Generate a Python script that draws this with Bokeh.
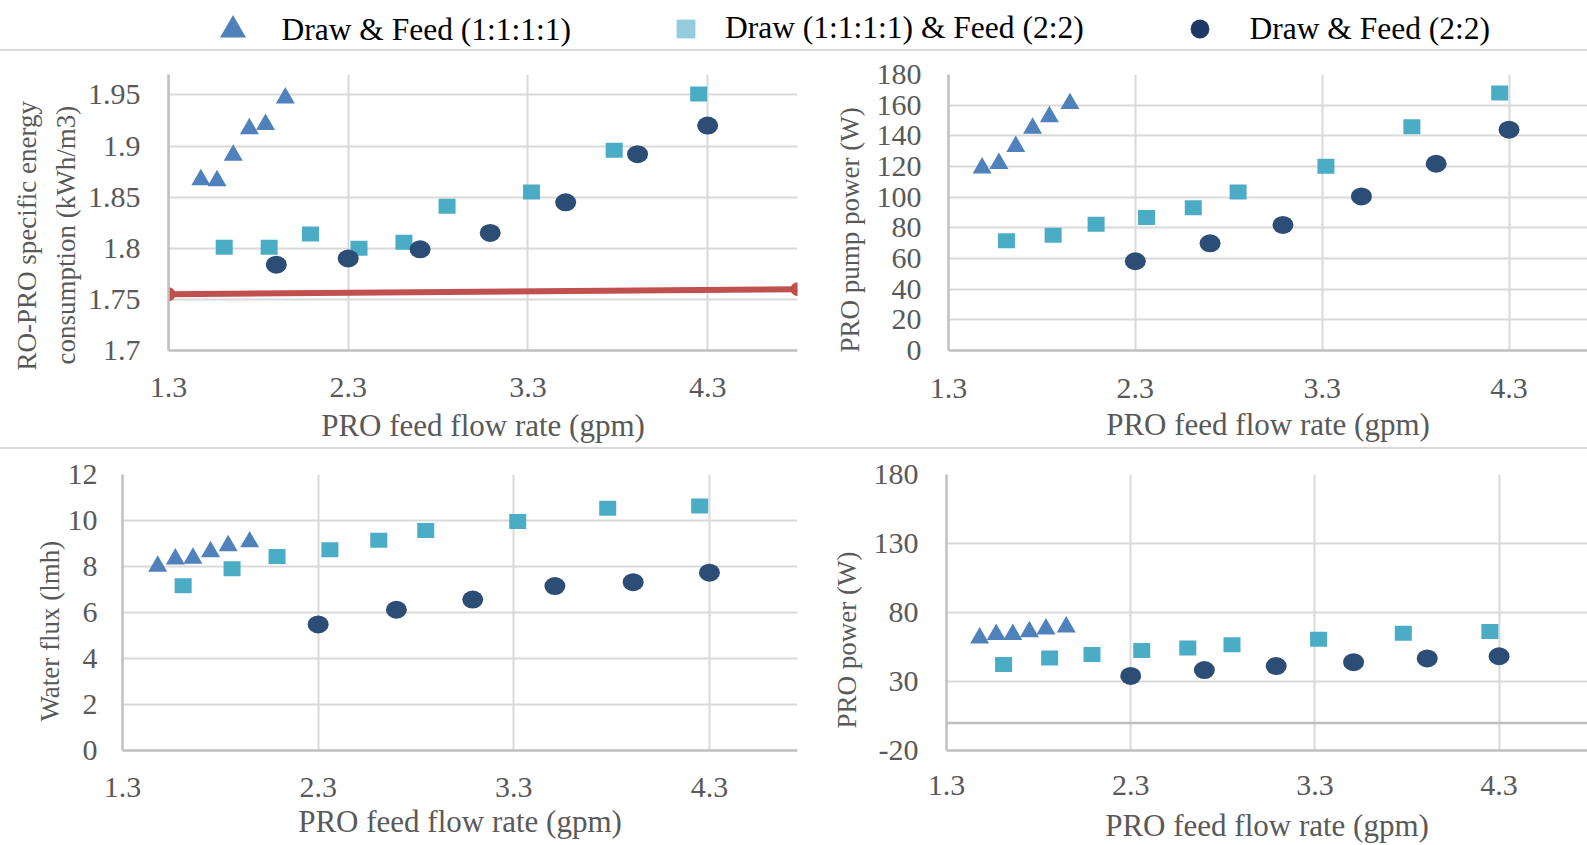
from bokeh.plotting import figure
from bokeh.models import Range1d, FixedTicker, Span, Legend, LegendItem, ColumnDataSource, Div, Title
from bokeh.layouts import column, row
from bokeh.embed import file_html
from bokeh.resources import INLINE

FONT = "Liberation Serif"
NAN = float("nan")

# ---------------- data ----------------
series_names = ["Draw & Feed (1:1:1:1)", "Draw (1:1:1:1) & Feed (2:2)", "Draw & Feed (2:2)"]

x_tri = [1.48, 1.57, 1.66, 1.75, 1.84, 1.95]
x_sq = [1.61, 1.86, 2.09, 2.36, 2.61, 2.85, 3.32, 3.78, 4.25]
x_circ = [2.30, 2.70, 3.09, 3.51, 3.91, 4.30]
x_circ_sec = [1.90, 2.30, 2.70, 3.09, 3.51, 3.91, 4.30]

# RO-PRO specific energy consumption (kWh/m3)
sec_tri = [1.867, 1.866, 1.891, 1.917, 1.921, 1.947]
sec_sq = [1.801, 1.801, 1.814, 1.800, 1.806, 1.841, 1.855, 1.896, 1.951]
sec_circ = [1.784, 1.790, 1.799, 1.815, 1.845, 1.892, 1.920]
ro_x = [1.3, 4.8]
ro_y = [1.755, 1.760]

# PRO pump power (W)
pump_tri = [119.0, 122.0, 133.0, 145.0, 152.5, 161.0]
pump_sq = [71.6, 75.2, 82.4, 86.7, 93.1, 103.3, 120.1, 146.0, 168.0]
pump_circ = [58.2, 69.9, 81.9, 100.5, 121.8, 144.0]

# Water flux (lmh)
flux_tri = [8.01, 8.33, 8.36, 8.64, 8.90, 9.07]
flux_sq = [7.16, 7.90, 8.44, 8.73, 9.14, 9.57, 9.96, 10.53, 10.63]
flux_circ = [5.48, 6.12, 6.56, 7.15, 7.32, 7.73]

# PRO power (W)
pro_tri = [61.5, 64.0, 64.0, 66.0, 68.0, 69.5]
pro_sq = [42.4, 47.1, 49.5, 52.4, 54.3, 56.7, 60.7, 65.0, 66.2]
pro_circ = [34.0, 38.3, 41.2, 44.0, 46.7, 48.3]

x_ticks = [1.3, 2.3, 3.3, 4.3]
x_tick_labels = ["1.3", "2.3", "3.3", "4.3"]
sec_ticks = [1.7, 1.75, 1.8, 1.85, 1.9, 1.95]
sec_tick_labels = ["1.7", "1.75", "1.8", "1.85", "1.9", "1.95"]
pump_ticks = [0, 20, 40, 60, 80, 100, 120, 140, 160, 180]
flux_ticks = [0, 2, 4, 6, 8, 10, 12]
pro_ticks = [-20, 30, 80, 130, 180]

C_TRI = "#4f81bd"
C_SQ = "#4bacc6"
C_CIRC = "#2c4d75"
C_RED = "#c0504d"
GRID = "#d9d9d9"
AXIS = "#bfbfbf"
TXT = "#595959"


def make_panel(width, height, mbl, mbr, mbt, mbb, xr, yr, yticks, ylabels,
               xls, xas, yls):
    p = figure(width=width, height=height, x_range=Range1d(*xr), y_range=Range1d(*yr),
               output_backend="svg", toolbar_location=None,
               min_border_left=mbl, min_border_right=mbr, min_border_top=mbt, min_border_bottom=mbb)
    p.outline_line_color = None
    p.xaxis.ticker = FixedTicker(ticks=x_ticks)
    p.xaxis.major_label_overrides = {t: s for t, s in zip(x_ticks, x_tick_labels)}
    p.yaxis.ticker = FixedTicker(ticks=yticks)
    p.yaxis.major_label_overrides = {t: s for t, s in zip(yticks, ylabels)}
    p.xgrid.ticker = FixedTicker(ticks=x_ticks)
    p.ygrid.ticker = FixedTicker(ticks=yticks)
    p.grid.grid_line_color = GRID
    p.grid.grid_line_width = 2
    p.axis.axis_line_color = AXIS
    p.axis.axis_line_width = 2.5
    p.axis.major_tick_line_color = None
    p.axis.minor_tick_line_color = None
    p.axis.major_tick_out = 0
    p.axis.major_tick_in = 0
    p.axis.major_label_text_font = FONT
    p.axis.major_label_text_font_size = "30px"
    p.axis.major_label_text_color = TXT
    p.xaxis.axis_label = "PRO feed flow rate (gpm)"
    p.xaxis.axis_label_text_font = FONT
    p.xaxis.axis_label_text_font_style = "normal"
    p.xaxis.axis_label_text_color = TXT
    p.xaxis.axis_label_text_font_size = "31px"
    p.xaxis.major_label_standoff = xls
    p.xaxis.axis_label_standoff = xas
    p.yaxis.major_label_standoff = yls
    return p


def add_ytitle(p, text, standoff, offset):
    # vertical (left-side) axis title; starts `offset` px above the plot-area bottom
    t = Title(text=text, align="left", offset=offset, standoff=standoff,
              text_font=FONT, text_font_size="27px", text_font_style="normal", text_color=TXT)
    p.add_layout(t, "left")


def add_series(p, xt, yt, xs, ys, xc, yc):
    p.rect(x="x", y="y", width=17, height=15, width_units="screen", height_units="screen",
           source=ColumnDataSource(dict(x=xs, y=ys)), fill_color=C_SQ, line_color=None)
    p.ellipse(x="x", y="y", width=21, height=18, width_units="screen", height_units="screen",
              source=ColumnDataSource(dict(x=xc, y=yc)), fill_color=C_CIRC, line_color=None)
    p.scatter(x="x", y="y", marker="triangle", size=19,
              source=ColumnDataSource(dict(x=xt, y=yt)), fill_color=C_TRI, line_color=None)


# ---------------- legend strip ----------------
leg = figure(width=1587, height=49, x_range=Range1d(0, 1), y_range=Range1d(0, 1),
             output_backend="svg", toolbar_location=None, x_axis_type=None, y_axis_type=None,
             min_border=0)
leg.outline_line_color = None
leg.grid.visible = False
r_tri = leg.scatter(x=[NAN], y=[NAN], marker="triangle", fill_color=C_TRI, line_color=None)
r_sq = leg.scatter(x=[NAN], y=[NAN], marker="square", fill_color="#93cddd", line_color=None)
r_circ = leg.scatter(x=[NAN], y=[NAN], marker="circle", fill_color="#1f3864", line_color=None)

for rend, name, loc, gw, lh, so in [
    (r_tri, series_names[0], (199.5, -18), 65, 75, 17),
    (r_sq, series_names[1], (662, -7.5), 47, 57, 16),
    (r_circ, series_names[2], (1175.5, -8), 47, 57, 27),
]:
    lg = Legend(items=[LegendItem(label=name, renderers=[rend])], location=loc,
                orientation="horizontal", glyph_width=gw, glyph_height=gw, label_height=lh,
                label_standoff=so, padding=0, margin=0, spacing=0,
                border_line_color=None, background_fill_alpha=0,
                label_text_font=FONT, label_text_font_size="31.5px", label_text_color="black")
    leg.add_layout(lg)

sep1 = Div(width=1587, height=2, margin=0, styles={"background-color": GRID})
sep2 = Div(width=1587, height=2, margin=0, styles={"background-color": GRID})

# ---------------- panels ----------------
p1 = make_panel(800, 396, 168, 3, 23, 96, (1.3, 4.8), (1.7, 1.97), sec_ticks, sec_tick_labels,
                27, 8, 28)
add_ytitle(p1, "consumption (kWh/m3)", 8, -14)
add_ytitle(p1, "RO-PRO specific energy", 5, -20)
p1.line(x=ro_x, y=ro_y, line_width=6, line_color=C_RED)
p1.scatter(x=ro_x, y=ro_y, marker="circle", size=14, fill_color=C_RED, line_color=None)
add_series(p1, x_tri, sec_tri, x_sq, sec_sq, x_circ_sec, sec_circ)

p2 = make_panel(787, 396, 148, 0, 22, 97, (1.3, 4.72), (0, 180), pump_ticks,
                [str(v) for v in pump_ticks], 28, 6, 27)
add_ytitle(p2, "PRO pump power (W)", 18, -2)
add_series(p2, x_tri, pump_tri, x_sq, pump_sq, x_circ, pump_circ)

p3 = make_panel(800, 396, 122, 3, 25, 93, (1.3, 4.75), (0, 12), flux_ticks,
                [str(v) for v in flux_ticks], 27, 4, 25)
add_ytitle(p3, "Water flux (lmh)", 0, 29)
add_series(p3, x_tri, flux_tri, x_sq, flux_sq, x_circ, flux_circ)

p4 = make_panel(787, 396, 146, 0, 20, 95, (1.3, 4.78), (-20, 180), pro_ticks,
                [str(v) for v in pro_ticks], 25, 10, 28)
add_ytitle(p4, "PRO power (W)", 17, 22)
p4.add_layout(Span(location=0, dimension="width", line_color=AXIS, line_width=2.5))
add_series(p4, x_tri, pro_tri, x_sq, pro_sq, x_circ, pro_circ)

layout = column(leg, sep1, row(p1, p2), sep2, row(p3, p4), spacing=0)

open("out.html", "w").write(file_html(layout, INLINE))
